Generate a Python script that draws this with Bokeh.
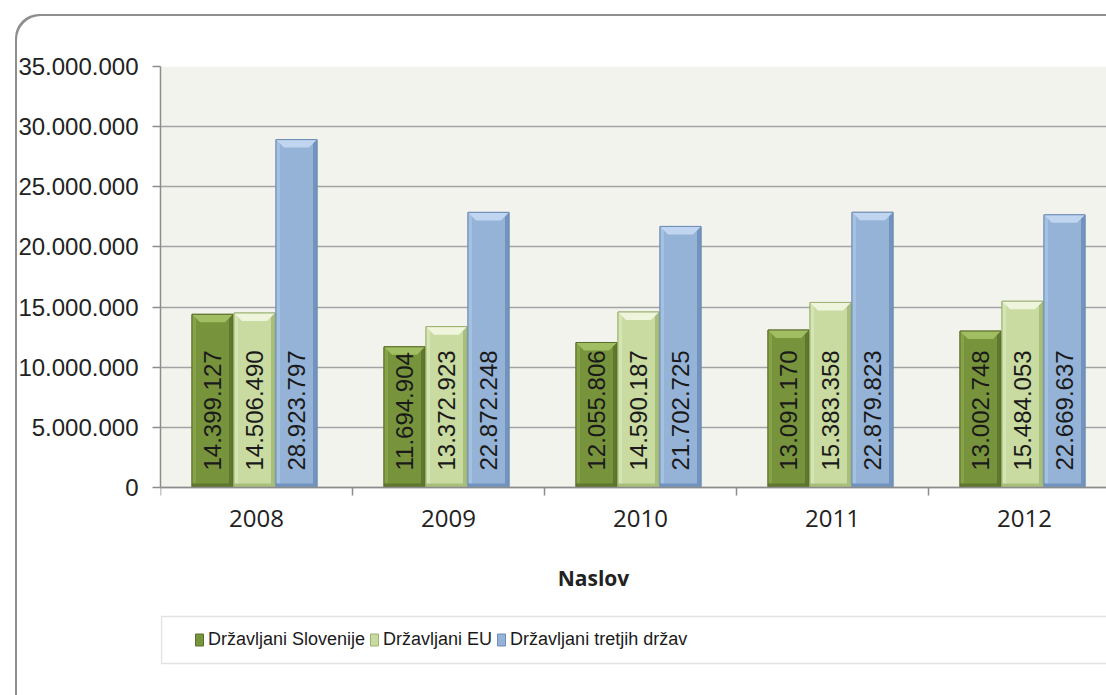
import math
from bokeh.plotting import figure
from bokeh.models import Range1d, FixedTicker, Legend, LegendItem, BoxAnnotation, Label
from bokeh.core.properties import value
from bokeh.embed import file_html
from bokeh.resources import INLINE

# ---------------- data ----------------
years = ["2008", "2009", "2010", "2011", "2012"]
slovenija = [14399127, 11694904, 12055806, 13091170, 13002748]
eu = [14506490, 13372923, 14590187, 15383358, 15484053]
tretje = [28923797, 22872248, 21702725, 22879823, 22669637]
series_names = ["Državljani Slovenije", "Državljani EU", "Državljani tretjih držav"]
y_ticks = [0, 5000000, 10000000, 15000000, 20000000, 25000000, 30000000, 35000000]
y_tick_labels = ["0", "5.000.000", "10.000.000", "15.000.000", "20.000.000",
                 "25.000.000", "30.000.000", "35.000.000"]
x_title = "Naslov"

# ---------------- styles ----------------
body_col = ["#77933C", "#C9DBA0", "#95B3D7"]
top_col = ["#A2BE62", "#EFF5DD", "#C0D5EF"]
right_col = ["#5E762D", "#A8BF7B", "#7393BF"]
left_col = ["#86A347", "#D6E5B4", "#A5C1E2"]
edge_col = ["#5A6E2A", "#9DB170", "#6F8DB5"]

OFF_X, OFF_Y = 15, 14          # page position of the chart's rounded border
PAGE_W, PAGE_H = 1106, 695
W, H = PAGE_W - OFF_X, PAGE_H - OFF_Y
PLOT_L, PLOT_T, PLOT_B = 160, 66, 487   # page coords of the plot area
CAT_PX = 192.0
Y_MAX = 35000000
px_y = Y_MAX / (PLOT_B - PLOT_T)        # data units per pixel
px_x = 1.0 / CAT_PX
frame_w = PAGE_W - PLOT_L
x_end = frame_w / CAT_PX
y_min = -(PAGE_H - PLOT_B) * px_y


def ypage(yp):
    """page y (pixels) -> data y"""
    return -(yp - PLOT_B) * px_y


def xpage(xp):
    return (xp - PLOT_L) * px_x


p = figure(width=W, height=H, output_backend="svg", toolbar_location=None,
           x_range=Range1d(0, x_end), y_range=Range1d(y_min, Y_MAX),
           min_border_left=PLOT_L - OFF_X, min_border_right=0,
           min_border_top=PLOT_T - OFF_Y, min_border_bottom=0)
p.background_fill_color = None
p.border_fill_color = None
p.outline_line_color = None
p.styles = {"margin-left": f"{OFF_X}px", "margin-top": f"{OFF_Y}px",
            "box-shadow": "inset 2px 2px 0 0 #8E8E8E",
            "border-top-left-radius": "24px", "background-color": "white"}

# plot-area background
p.quad(left=[0], right=[x_end], bottom=[0], top=[Y_MAX], fill_color="#F3F3EE",
       line_color=None, level="image")

# grid
p.xgrid.grid_line_color = None
p.ygrid.ticker = FixedTicker(ticks=y_ticks)
p.ygrid.grid_line_color = "#A3A3A3"
p.ygrid.grid_line_width = 1.6

# bars
centers = [i + 0.5 for i in range(len(years))]
bar_w = 41 * px_x
offset = 42 * px_x
bevel_h = 8 * px_y
bevel_in = 8 * px_x
strip = 4 * px_x
bottom_h = 4 * px_y

renderers = []
for k, vals in enumerate([slovenija, eu, tretje]):
    xs = [c + (k - 1) * offset - 2 * px_x for c in centers]
    r = p.vbar(x=xs, top=vals, bottom=0, width=bar_w, fill_color=body_col[k],
               line_color=edge_col[k], line_width=1)
    renderers.append(r)
    p.vbar(x=[x - bar_w / 2 + strip / 2 for x in xs], top=vals, bottom=0, width=strip,
           fill_color=left_col[k], line_color=None)
    p.vbar(x=[x + bar_w / 2 - strip / 2 for x in xs], top=vals, bottom=0, width=strip,
           fill_color=right_col[k], line_color=None)
    p.vbar(x=xs, top=bottom_h, bottom=0, width=bar_w, fill_color=right_col[k],
           line_color=None)
    bx = [[x - bar_w / 2, x + bar_w / 2, x + bar_w / 2 - bevel_in, x - bar_w / 2 + bevel_in] for x in xs]
    by = [[v, v, v - bevel_h, v - bevel_h] for v in vals]
    p.patches(bx, by, fill_color=top_col[k], line_color=None)
    p.vbar(x=xs, top=vals, bottom=0, width=bar_w, fill_color=None,
           line_color=edge_col[k], line_width=1)
    labels = [f"{v:,}".replace(",", ".") for v in vals]
    p.text(x=xs, y=[0] * len(xs), text=labels, angle=math.pi / 2, y_offset=-17,
           text_align="left", text_baseline="middle",
           text_font=value("Liberation Sans"), text_font_size="24px",
           text_color="#1A1A1A")

# y axis
ya = p.yaxis[0]
ya.ticker = FixedTicker(ticks=y_ticks)
ya.bounds = (0, Y_MAX)
ya.major_label_overrides = {t: l for t, l in zip(y_ticks, y_tick_labels)}
ya.major_label_text_font = "Liberation Sans"
ya.major_label_text_font_size = "24px"
ya.major_label_text_color = "#222222"
ya.major_label_standoff = 14
ya.major_tick_out = 8
ya.major_tick_in = 0
ya.minor_tick_line_color = None
ya.axis_line_color = "#8C8C8C"
ya.axis_line_width = 1.5
ya.major_tick_line_color = "#8C8C8C"
ya.major_tick_line_width = 1.5

# x axis drawn at y = 0
xa = p.xaxis[0]
xa.fixed_location = 0
xa.ticker = FixedTicker(ticks=centers, minor_ticks=list(range(len(years) + 1)))
xa.major_label_overrides = {c: y for c, y in zip(centers, years)}
xa.major_label_text_font = "Open Sans"
xa.major_label_text_font_size = "24px"
xa.major_label_text_color = "#222222"
xa.major_tick_line_color = None
xa.major_tick_out = 0
xa.major_tick_in = 0
xa.major_label_standoff = 14
xa.minor_tick_out = 8
xa.minor_tick_in = 0
xa.minor_tick_line_color = "#8C8C8C"
xa.minor_tick_line_width = 1.5
xa.axis_line_color = "#8C8C8C"
xa.axis_line_width = 1.5

# axis title
p.add_layout(Label(x=xpage(593), y=ypage(577), text=x_title,
                   text_align="center", text_baseline="middle",
                   text_font="Open Sans", text_font_style="bold",
                   text_font_size="21px", text_color="#222222"))

# legend box and legend
p.add_layout(BoxAnnotation(left=xpage(161), right=x_end + 1, top=ypage(616),
                           bottom=ypage(663), fill_alpha=0, fill_color=None,
                           line_color="#9E9E9E", line_width=1.5))
items = [LegendItem(label=n, renderers=[r]) for n, r in zip(series_names, renderers)]
legend = Legend(items=items, orientation="horizontal",
                location=(194 - PLOT_L, PAGE_H - 650), margin=0, padding=0,
                glyph_width=10, glyph_height=15, label_standoff=4, spacing=4,
                border_line_alpha=0, background_fill_alpha=0,
                label_text_font="Liberation Sans", label_text_font_size="18px",
                label_text_color="#1A1A1A")
p.add_layout(legend)

open("out.html", "w").write(file_html(p, INLINE))
